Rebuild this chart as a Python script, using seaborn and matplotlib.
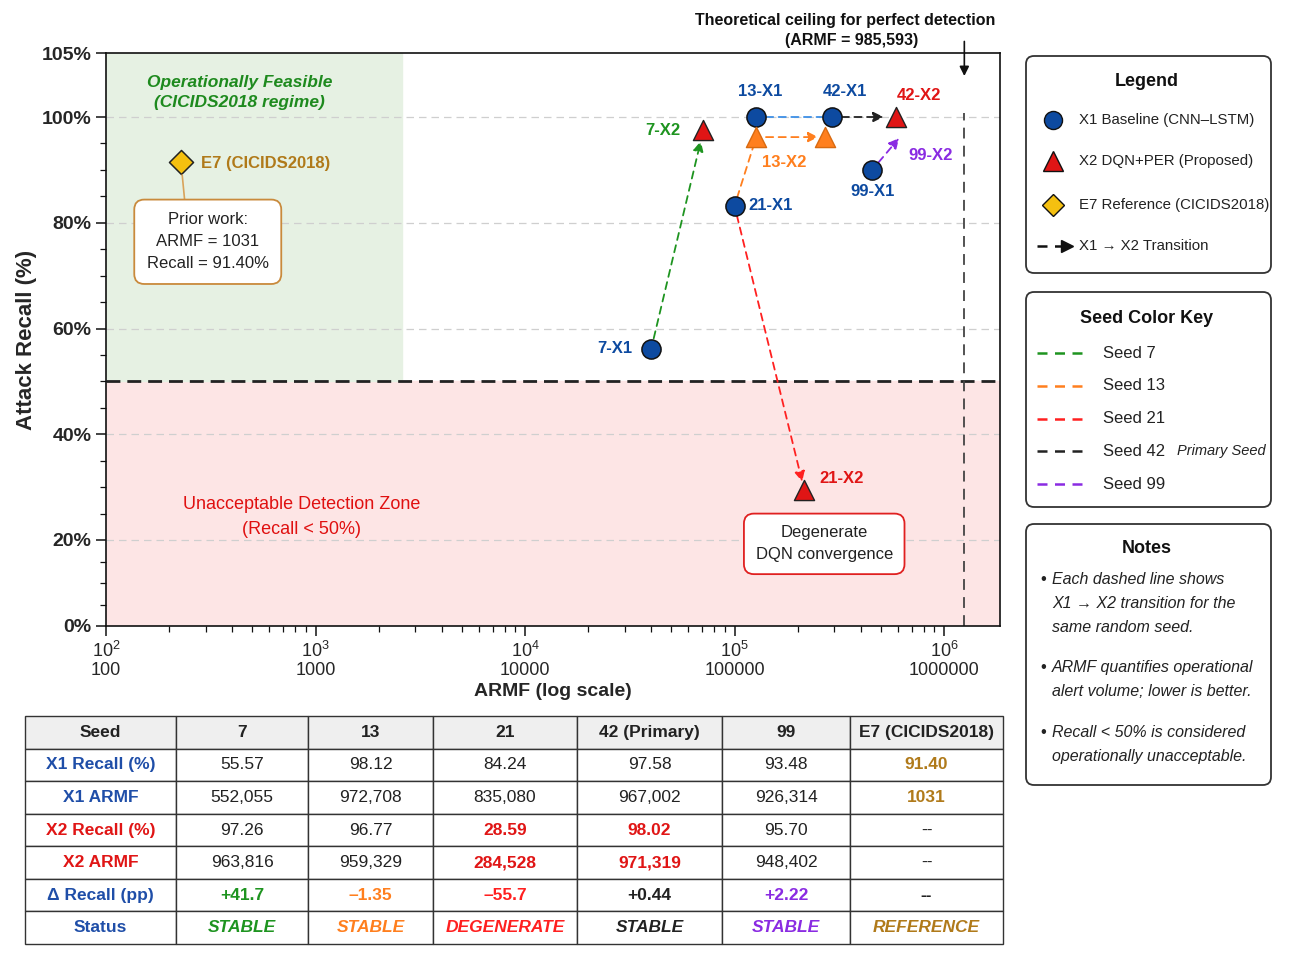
import numpy as np
import pandas as pd
import seaborn as sns
import matplotlib.pyplot as plt
from matplotlib.patches import FancyBboxPatch

sns.set_theme(style="white")
plt.rcParams['font.family'] = ['Liberation Sans', 'DejaVu Sans']
plt.rcParams['mathtext.default'] = 'regular'

# ---- table values ----
seeds = ['7', '13', '21', '42', '99']
x1_recall = [55.57, 98.12, 84.24, 97.58, 93.48]
x1_armf = [552055, 972708, 835080, 967002, 926314]
x2_recall = [97.26, 96.77, 28.59, 98.02, 95.70]
x2_armf = [963816, 959329, 284528, 971319, 948402]
delta_recall = ['+41.7', '\u20131.35', '\u201355.7', '+0.44', '+2.22']
status = ['STABLE', 'STABLE', 'DEGENERATE', 'STABLE', 'STABLE']
e7_recall = 91.40
e7_armf = 1031
ceiling_armf = 985593

# ---- positions as drawn in the chart ----
x1_armf_plot = [40000, 127000, 100000, 292000, 454000]
x1_recall_plot = [56.1, 100.0, 83.2, 100.0, 90.0]
x2_armf_plot = [71000, 271000, 215000, 590000, 610000]
x2_recall_plot = [97.5, 96.2, 29.5, 100.0, 96.0]
x2_mid13 = (127000, 96.2)
e7_plot = (228, 91.4)
ceiling_plot = 1.25e6
feasible_armf = 2600
threshold = 50

seed_colors = ['#1e9420', '#ff7f1e', '#ff2020', '#222222', '#8a2be2']
blue = '#0d4aa0'
red_tri = '#e01515'
brown = '#b07a1a'

# piecewise y scale
yk = [0, 20, 100, 105]
pk = [0, 86, 509, 573]
fwd = lambda v: np.interp(v, yk, pk)
inv = lambda p: np.interp(p, pk, yk)

fig = plt.figure(figsize=(12.9, 9.63), dpi=100)
ax = fig.add_axes([106/1290, 1-626/963, 894/1290, 573/963])
ax.set_xscale('log')
ax.set_yscale('function', functions=(fwd, inv))
ax.set_xlim(100, 1.85e6)
ax.set_ylim(0, 105)

# zones
ax.axhspan(0, threshold, color='#fde5e5', zorder=0)
ax.fill_between([100, feasible_armf], threshold, 105, color='#e6f1e3', zorder=0)
for g in [20, 40, 60, 80, 100]:
    ax.axhline(g, color='#cfcfcf', ls=(0, (6, 4)), lw=0.9, zorder=1)
ax.axhline(threshold, color='#222222', ls=(0, (5, 2.5)), lw=2, zorder=2)
ax.plot([ceiling_plot, ceiling_plot], [0, 100.3], color='#444444', ls=(0, (6, 4)), lw=1.3, zorder=2)

# transitions
def arrow(p0, p1, c, sa=8, sb=8, head=True):
    ax.annotate('', xy=p1, xytext=p0,
                arrowprops=dict(arrowstyle='-|>' if head else '-', ls=(0, (4, 3)), color=c,
                                lw=1.3, shrinkA=sa, shrinkB=sb, mutation_scale=15), zorder=3)

arrow((x1_armf_plot[0], x1_recall_plot[0]), (x2_armf_plot[0], x2_recall_plot[0]), seed_colors[0], sb=8)
arrow((x1_armf_plot[2], x1_recall_plot[2]), x2_mid13, seed_colors[1], sa=6, sb=6, head=False)
arrow(x2_mid13, (x2_armf_plot[1], x2_recall_plot[1]), seed_colors[1], sa=7, sb=5)
arrow((x1_armf_plot[1], x1_recall_plot[1]), (x1_armf_plot[3], x1_recall_plot[3]), '#3d8fe6', sa=7, sb=7, head=False)
arrow((x1_armf_plot[2], x1_recall_plot[2]), (x2_armf_plot[2], x2_recall_plot[2]), seed_colors[2], sa=7, sb=6)
arrow((x1_armf_plot[3], x1_recall_plot[3]), (x2_armf_plot[3], x2_recall_plot[3]), seed_colors[3], sa=7, sb=9)
arrow((x1_armf_plot[4], x1_recall_plot[4]), (x2_armf_plot[4], x2_recall_plot[4]), seed_colors[4], sa=7, sb=0)

# markers
x1_df = pd.DataFrame({'armf': x1_armf_plot, 'recall': x1_recall_plot})
sns.scatterplot(data=x1_df, x='armf', y='recall', marker='o', s=190, color=blue,
                edgecolor='#111111', linewidth=1.1, ax=ax, zorder=5)
x2_df = pd.DataFrame({'armf': x2_armf_plot[:4] + [x2_mid13[0]],
                      'recall': x2_recall_plot[:4] + [x2_mid13[1]],
                      'c': [red_tri, seed_colors[1], red_tri, red_tri, seed_colors[1]]})
for c, sub in x2_df.groupby('c'):
    sns.scatterplot(data=sub, x='armf', y='recall', marker='^', s=210, color=c,
                    edgecolor='#222222' if c == red_tri else '#d86a10', linewidth=1.0, ax=ax, zorder=5)
sns.scatterplot(x=[e7_plot[0]], y=[e7_plot[1]], marker='D', s=150, color='#f5c010',
                edgecolor='#222222', linewidth=1.1, ax=ax, zorder=5)

# point labels
def lab(txt, xy, off, c, ha='center'):
    ax.annotate(txt, xy=xy, xytext=off, textcoords='offset pixels', ha=ha, va='center',
                color=c, fontsize=12, fontweight='bold', zorder=6)

lab('7-X1', (x1_armf_plot[0], x1_recall_plot[0]), (-36, 1), blue)
lab('7-X2', (x2_armf_plot[0], x2_recall_plot[0]), (-41, 0), seed_colors[0])
lab('13-X1', (x1_armf_plot[1], x1_recall_plot[1]), (4, 26), blue)
lab('42-X1', (x1_armf_plot[3], x1_recall_plot[3]), (13, 26), blue)
lab('42-X2', (x2_armf_plot[3], x2_recall_plot[3]), (23, 22), red_tri)
lab('13-X2', x2_mid13, (28, -25), seed_colors[1])
lab('99-X1', (x1_armf_plot[4], x1_recall_plot[4]), (0, -22), blue)
lab('99-X2', (x2_armf_plot[4], x2_recall_plot[4]), (32, -17), seed_colors[4])
lab('21-X1', (x1_armf_plot[2], x1_recall_plot[2]), (36, 0), blue)
lab('21-X2', (x2_armf_plot[2], x2_recall_plot[2]), (37, 11), red_tri)
lab('E7 (CICIDS2018)', e7_plot, (20, -1), brown, ha='left')

# annotation boxes
ax.annotate('Prior work:\nARMF = %d\nRecall = %.2f%%' % (e7_armf, e7_recall), xy=e7_plot,
            xytext=(306, 76.4), textcoords='data', ha='center', va='center', fontsize=12,
            linespacing=1.6, color='#222222',
            bbox=dict(boxstyle='round,pad=0.75,rounding_size=0.6', fc='white', ec='#c98a3c', lw=1.3),
            arrowprops=dict(arrowstyle='-', color='#d9a35a', lw=1.2, relpos=(0.32, 1.0),
                            shrinkA=0, shrinkB=9), zorder=6)
ax.text(268000, 19.1, 'Degenerate\nDQN convergence', ha='center', va='center', fontsize=12,
        linespacing=1.6, color='#222222',
        bbox=dict(boxstyle='round,pad=0.7,rounding_size=0.6', fc='white', ec='#e02020', lw=1.3), zorder=6)
ax.text(435, 101.9, 'Operationally Feasible\n(CICIDS2018 regime)', ha='center', va='center',
        fontsize=12.5, fontweight='bold', fontstyle='italic', color='#1e8a1e', linespacing=1.45)
ax.text(859, 24.3, 'Unacceptable Detection Zone\n(Recall < 50%)', ha='center', va='center',
        fontsize=13, color='#e01010', linespacing=1.6)

# ceiling label
ax.annotate('', xy=(ceiling_plot, 0.955), xytext=(ceiling_plot, 1.025),
            xycoords=('data', 'axes fraction'), textcoords=('data', 'axes fraction'),
            arrowprops=dict(arrowstyle='-|>', color='#111111', lw=1.2, mutation_scale=14))
fig.text(845/1290, 1-20/963, 'Theoretical ceiling for perfect detection', ha='center', va='center',
         fontsize=11.5, fontweight='bold', color='#111111')
fig.text(852/1290, 1-40/963, '(ARMF = {:,})'.format(ceiling_armf), ha='center', va='center',
         fontsize=11.5, fontweight='bold', color='#111111')

# axes styling
ax.set_yticks([0, 20, 40, 60, 80, 100, 105])
ax.set_yticklabels(['0%', '20%', '40%', '60%', '80%', '100%', '105%'], fontsize=14, fontweight='bold')
ax.set_yticks(np.arange(5, 100, 5), minor=True)
ax.set_xticks([1e2, 1e3, 1e4, 1e5, 1e6])
ax.set_xticklabels(['$10^{%d}$\n%d' % (k, 10**k) for k in range(2, 7)], fontsize=13, linespacing=1.1)
ax.tick_params(axis='both', which='major', direction='out', length=7, width=1.1, color='#111111', bottom=True, left=True)
ax.tick_params(axis='both', which='minor', direction='out', length=4, width=0.9, color='#111111', bottom=True, left=True)
ax.set_ylabel('Attack Recall (%)', fontsize=16, fontweight='bold', labelpad=3)
ax.set_xlabel('ARMF (log scale)', fontsize=14, fontweight='bold', labelpad=3)
for s in ax.spines.values():
    s.set_color('#111111')
    s.set_linewidth(1.2)

# side panels
def panel(x0, y0, x1, y1):
    w, h = x1 - x0, y1 - y0
    p = fig.add_axes([x0/1290, 1-y1/963, w/1290, h/963])
    p.set_xlim(0, w)
    p.set_ylim(h, 0)
    p.axis('off')
    p.add_patch(FancyBboxPatch((1, 1), w-2, h-2, boxstyle='round,pad=0,rounding_size=8',
                               fc='white', ec='#333333', lw=1.3, clip_on=False))
    return p

pl = panel(1025, 55, 1272, 274)
pl.text(122, 27, 'Legend', ha='center', va='center', fontsize=13, fontweight='bold', color='#111111')
pl.plot(28, 65, 'o', ms=13, mfc=blue, mec='#111111', mew=1)
pl.plot(28, 106, '^', ms=14, mfc=red_tri, mec='#111111', mew=1)
pl.plot(28, 150, 'D', ms=11, mfc='#f5c010', mec='#111111', mew=1)
pl.plot([12, 38], [191, 191], color='#111111', ls=(0, (4, 3)), lw=1.8)
pl.plot(42, 191, '>', ms=9, color='#111111')
for yy, t in zip([65, 106, 150, 191], ['X1 Baseline (CNN\u2013LSTM)', 'X2 DQN+PER (Proposed)',
                                       'E7 Reference (CICIDS2018)', 'X1 \u2192 X2 Transition']):
    pl.text(54, yy, t, va='center', fontsize=10.8, color='#222222')

ps = panel(1025, 291, 1272, 508)
ps.text(122, 27, 'Seed Color Key', ha='center', va='center', fontsize=13, fontweight='bold', color='#111111')
for i, (sd, c) in enumerate(zip(seeds, seed_colors)):
    yy = 62 + i * 32.8
    ps.plot([12, 62], [yy, yy], color=c, ls=(0, (4, 3)), lw=1.8)
    ps.text(78, yy, 'Seed ' + sd, va='center', fontsize=12, color='#222222')
ps.text(152, 62 + 3 * 32.8, 'Primary Seed', va='center', fontsize=10.5, fontstyle='italic', color='#222222')

pn = panel(1025, 523, 1272, 786)
pn.text(122, 25, 'Notes', ha='center', va='center', fontsize=13, fontweight='bold', color='#111111')
notes = [['Each dashed line shows', 'X1 \u2192 X2 transition for the', 'same random seed.'],
         ['ARMF quantifies operational', 'alert volume; lower is better.'],
         ['Recall < 50% is considered', 'operationally unacceptable.']]
for y0, lines in zip([56, 144, 209], notes):
    pn.text(15, y0, '\u2022', va='center', fontsize=12, color='#222222')
    for j, ln in enumerate(lines):
        pn.text(27, y0 + 24 * j, ln, va='center', fontsize=11.5, fontstyle='italic', color='#222222')

# table
header = ['Seed', '7', '13', '21', '42 (Primary)', '99', 'E7 (CICIDS2018)']
rows = [['X1 Recall (%)'] + ['%.2f' % v for v in x1_recall] + ['%.2f' % e7_recall],
        ['X1 ARMF'] + ['{:,}'.format(v) for v in x1_armf] + [str(e7_armf)],
        ['X2 Recall (%)'] + ['%.2f' % v for v in x2_recall] + ['--'],
        ['X2 ARMF'] + ['{:,}'.format(v) for v in x2_armf] + ['--'],
        ['\u0394 Recall (pp)'] + delta_recall + ['--'],
        ['Status'] + status + ['REFERENCE']]
tab_ax = fig.add_axes([25/1290, 1-944/963, 978/1290, 228/963])
tab_ax.axis('off')
cw = np.array([151, 132, 125, 144, 145, 128, 153], dtype=float)
tbl = tab_ax.table(cellText=[header] + rows, cellLoc='center', colWidths=list(cw / cw.sum()),
                   bbox=[0, 0, 1, 1])
tbl.auto_set_font_size(False)
status_colors = seed_colors[:3] + ['#222222', seed_colors[4], brown]
for (r, c), cell in tbl.get_celld().items():
    cell.set_edgecolor('#333333')
    cell.set_linewidth(1.0)
    t = cell.get_text()
    t.set_fontsize(12.5)
    t.set_color('#222222')
    if r == 0:
        cell.set_facecolor('#efefef')
        t.set_fontweight('bold')
        continue
    if c == 0:
        t.set_fontweight('bold')
        t.set_color(red_tri if r in (3, 4) else '#1f4ea8')
        continue
    if c == 6 and r in (1, 2):
        t.set_color(brown)
        t.set_fontweight('bold')
    if r in (3, 4) and c in (3, 4):
        t.set_color(red_tri)
        t.set_fontweight('bold')
    if r == 5:
        t.set_fontweight('bold')
        if c < 6:
            t.set_color(status_colors[c - 1])
    if r == 6:
        t.set_fontweight('bold')
        t.set_fontstyle('italic')
        t.set_color(status_colors[c - 1])

fig.savefig('out.png', dpi=100)
